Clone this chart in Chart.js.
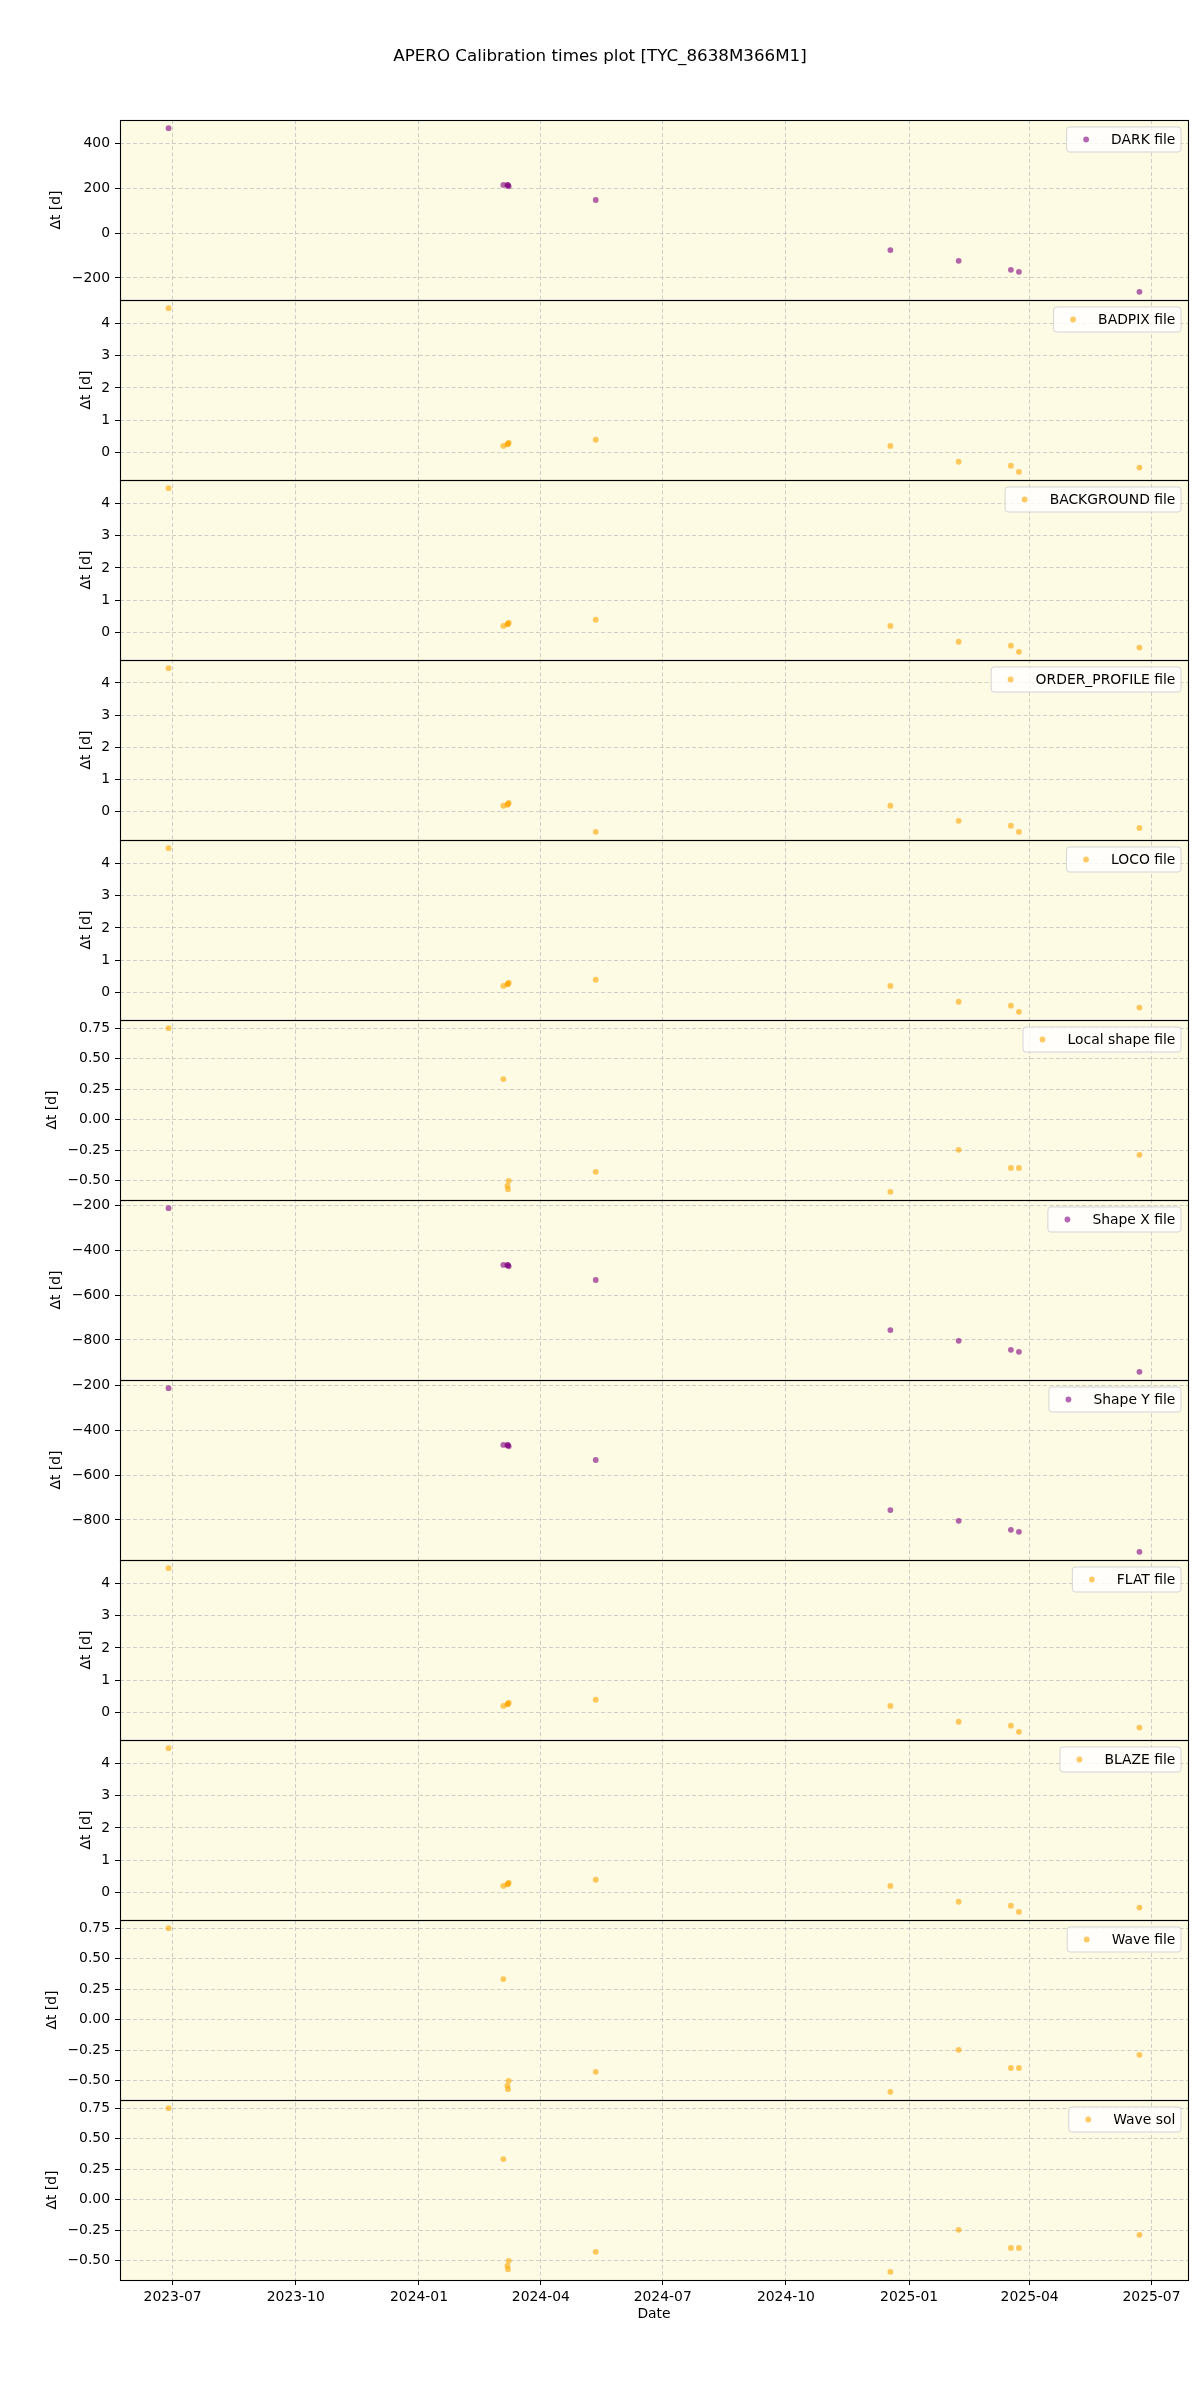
<!DOCTYPE html>
<html>
<head>
<meta charset="utf-8">
<script src="https://cdn.jsdelivr.net/npm/chart.js@4.4.1/dist/chart.umd.min.js"></script>
<style>
  html, body { margin: 0; padding: 0; background: #fff; }
  #wrap { position: relative; width: 1200px; height: 2400px; }
  #chart { position: absolute; left: 0; top: 0; }
  #title { position: absolute; left: 0; top: 45px; width: 1200px; text-align: center;
           font-family: "DejaVu Sans", sans-serif; font-size: 16.7px; line-height: 20px; color: #000; }
</style>
</head>
<body>
<div id="wrap">
  <canvas id="chart" width="1200" height="2400"></canvas>
  <div id="title">APERO Calibration times plot [TYC_8638M366M1]</div>
</div>
<script>
// calibration file dates (x) shared by every panel
const calibDates = ['2023-06-28', '2024-03-04', '2024-03-07', '2024-03-07T12:00Z', '2024-03-08',
                    '2024-05-12', '2024-12-18', '2025-02-07', '2025-03-18', '2025-03-24', '2025-06-22'];
const xTickDates = ['2023-07-01', '2023-10-01', '2024-01-01', '2024-04-01', '2024-07-01',
                    '2024-10-01', '2025-01-01', '2025-04-01', '2025-07-01'];

// delta t [d] per panel
const darkVals    = [467, 214, 214, 213, 208, 147, -76, -124, -164, -173, -262];
const badpixVals  = [4.46, 0.21, 0.26, 0.27, 0.31, 0.40, 0.21, -0.28, -0.40, -0.59, -0.46];
const backgrVals  = [4.46, 0.21, 0.26, 0.27, 0.31, 0.40, 0.21, -0.28, -0.40, -0.59, -0.46];
const orderpVals  = [4.46, 0.19, 0.22, 0.24, 0.28, -0.62, 0.19, -0.28, -0.43, -0.62, -0.50];
const locoVals    = [4.46, 0.21, 0.26, 0.27, 0.31, 0.40, 0.21, -0.28, -0.40, -0.59, -0.46];
const lshapeVals  = [0.75, 0.333, -0.543, -0.57, -0.502, -0.428, -0.592, -0.248, -0.396, -0.396, -0.289];
const shapeXVals  = [-213, -466, -466, -467, -472, -533, -756, -804, -844, -853, -942];
const shapeYVals  = [-213, -466, -466, -467, -472, -533, -756, -804, -844, -853, -942];
const flatVals    = [4.46, 0.21, 0.26, 0.27, 0.31, 0.40, 0.21, -0.28, -0.40, -0.59, -0.46];
const blazeVals   = [4.46, 0.21, 0.26, 0.27, 0.31, 0.40, 0.21, -0.28, -0.40, -0.59, -0.46];
const waveVals    = [0.75, 0.333, -0.543, -0.57, -0.502, -0.428, -0.592, -0.248, -0.396, -0.396, -0.289];
const waveSolVals = [0.75, 0.333, -0.543, -0.57, -0.502, -0.428, -0.592, -0.248, -0.396, -0.396, -0.289];

// y tick values
const darkTicks  = [-200, 0, 200, 400];
const smallTicks = [0, 1, 2, 3, 4];
const fracTicks  = [-0.5, -0.25, 0, 0.25, 0.5, 0.75];
const shapeTicks = [-800, -600, -400, -200];

const ORANGE = 'rgba(255,165,0,0.6)';
const PURPLE = 'rgba(128,0,128,0.6)';

const panels = [
  { label: 'DARK file',          vals: darkVals,    color: PURPLE, ticks: darkTicks,  dec: 0 },
  { label: 'BADPIX file',        vals: badpixVals,  color: ORANGE, ticks: smallTicks, dec: 0 },
  { label: 'BACKGROUND file',    vals: backgrVals,  color: ORANGE, ticks: smallTicks, dec: 0 },
  { label: 'ORDER_PROFILE file', vals: orderpVals,  color: ORANGE, ticks: smallTicks, dec: 0 },
  { label: 'LOCO file',          vals: locoVals,    color: ORANGE, ticks: smallTicks, dec: 0 },
  { label: 'Local shape file',   vals: lshapeVals,  color: ORANGE, ticks: fracTicks,  dec: 2 },
  { label: 'Shape X file',       vals: shapeXVals,  color: PURPLE, ticks: shapeTicks, dec: 0 },
  { label: 'Shape Y file',       vals: shapeYVals,  color: PURPLE, ticks: shapeTicks, dec: 0 },
  { label: 'FLAT file',          vals: flatVals,    color: ORANGE, ticks: smallTicks, dec: 0 },
  { label: 'BLAZE file',         vals: blazeVals,   color: ORANGE, ticks: smallTicks, dec: 0 },
  { label: 'Wave file',          vals: waveVals,    color: ORANGE, ticks: fracTicks,  dec: 2 },
  { label: 'Wave sol',           vals: waveSolVals, color: ORANGE, ticks: fracTicks,  dec: 2 }
];

const FONT = 'DejaVu Sans';
const FS = 13.9;
const GRID = 'rgba(185,185,185,0.7)';
const BG = 'rgb(253,251,227)';

Chart.defaults.font.family = FONT;
Chart.defaults.font.size = FS;
Chart.defaults.color = '#000';

function fmt(v, dec) {
  const s = Math.abs(v).toFixed(dec);
  return (v < 0 ? '\u2212' : '') + s;
}

const xs = calibDates.map(d => Date.parse(d));
const xMin = Math.min(...xs), xMax = Math.max(...xs);
const xPad = (xMax - xMin) * 0.05;

const scales = {
  x: {
    type: 'linear',
    position: 'bottom',
    min: xMin - xPad,
    max: xMax + xPad,
    afterBuildTicks: s => { s.ticks = xTickDates.map(d => ({ value: Date.parse(d) })); },
    afterFit: s => { s.height = 43; },
    ticks: {
      autoSkip: false, maxRotation: 0, padding: 4,
      callback: v => new Date(v).toISOString().slice(0, 7)
    },
    grid: { color: GRID, lineWidth: 1, tickLength: 5, tickColor: '#000', tickWidth: 1 },
    border: { display: false, dash: [4, 2.5] },
    title: { display: true, text: 'Date', padding: 0, font: { size: FS } }
  }
};

panels.forEach((p, i) => {
  const lo = Math.min(...p.vals), hi = Math.max(...p.vals);
  const pad = (hi - lo) * 0.05;
  scales['y' + i] = {
    type: 'linear',
    position: 'left',
    stack: 'panels',
    stackWeight: 1,
    weight: 20 - i,
    min: lo - pad,
    max: hi + pad,
    afterBuildTicks: s => { s.ticks = p.ticks.map(v => ({ value: v })); },
    afterFit: s => { s.width = 62; },
    ticks: { padding: 5, autoSkip: false, callback: v => fmt(v, p.dec) },
    grid: { color: GRID, lineWidth: 1, tickLength: 5, tickColor: '#000', tickWidth: 1 },
    border: { display: false, dash: [4, 2.5] }
  };
});

const datasets = panels.map((p, i) => ({
  label: p.label,
  yAxisID: 'y' + i,
  xAxisID: 'x',
  data: p.vals.map((v, j) => ({ x: xs[j], y: v })),
  backgroundColor: p.color,
  borderColor: p.color,
  borderWidth: 0,
  pointRadius: 2.9,
  pointHoverRadius: 2.9
}));

const backgroundPlugin = {
  id: 'bg',
  beforeDraw(chart) {
    const { ctx, chartArea: a } = chart;
    ctx.save();
    ctx.fillStyle = '#fff';
    ctx.fillRect(0, 0, chart.width, chart.height);
    ctx.fillStyle = BG;
    ctx.fillRect(a.left, a.top, a.right - a.left, a.bottom - a.top);
    ctx.restore();
  }
};

const framePlugin = {
  id: 'frames',
  afterDatasetsDraw(chart) {
    const { ctx, chartArea: a } = chart;
    ctx.save();
    ctx.strokeStyle = '#000';
    ctx.lineWidth = 1.1;
    panels.forEach((p, i) => {
      const s = chart.scales['y' + i];
      const t = Math.round(s.top) + 0.5, b = Math.round(s.bottom) + 0.5;
      ctx.strokeRect(Math.round(a.left) + 0.5, t, Math.round(a.right) - Math.round(a.left), b - t);
    });
    ctx.restore();
  }
};

const labelPlugin = {
  id: 'ylabels',
  afterDraw(chart) {
    const { ctx, chartArea: a } = chart;
    ctx.save();
    ctx.font = FS + 'px "' + FONT + '"';
    panels.forEach((p, i) => {
      const s = chart.scales['y' + i];
      const maxW = Math.max(...p.ticks.map(v => ctx.measureText(fmt(v, p.dec)).width));
      const cx = a.left - 10 - maxW - 15;
      const cy = (s.top + s.bottom) / 2;
      ctx.save();
      ctx.translate(cx, cy);
      ctx.rotate(-Math.PI / 2);
      ctx.fillStyle = '#000';
      ctx.textAlign = 'center';
      ctx.textBaseline = 'middle';
      ctx.fillText('\u0394t [d]', 0, 0);
      ctx.restore();
    });
    ctx.restore();
  }
};

const legendPlugin = {
  id: 'panelLegends',
  afterDraw(chart) {
    const { ctx, chartArea: a } = chart;
    ctx.save();
    ctx.font = FS + 'px "' + FONT + '"';
    panels.forEach((p, i) => {
      const s = chart.scales['y' + i];
      const tw = ctx.measureText(p.label).width;
      const w = 5.6 + 27.8 + 11.1 + tw + 5.6;
      const h = 25;
      const x = a.right - 7 - w;
      const y = s.top + 7;
      ctx.beginPath();
      ctx.roundRect(x, y, w, h, 3);
      ctx.fillStyle = 'rgba(255,255,255,0.8)';
      ctx.fill();
      ctx.strokeStyle = 'rgba(204,204,204,0.8)';
      ctx.lineWidth = 1;
      ctx.stroke();
      ctx.beginPath();
      ctx.arc(x + 5.6 + 13.9, y + h / 2, 2.9, 0, Math.PI * 2);
      ctx.fillStyle = p.color;
      ctx.fill();
      ctx.fillStyle = '#000';
      ctx.textAlign = 'left';
      ctx.textBaseline = 'middle';
      ctx.fillText(p.label, x + 5.6 + 27.8 + 11.1, y + h / 2 + 0.5);
    });
    ctx.restore();
  }
};

new Chart(document.getElementById('chart').getContext('2d'), {
  type: 'scatter',
  data: { datasets },
  options: {
    responsive: false,
    animation: false,
    devicePixelRatio: 1,
    layout: { padding: { left: 58, right: 12, top: 120, bottom: 77 } },
    plugins: { legend: { display: false }, tooltip: { enabled: false }, title: { display: false } },
    scales
  },
  plugins: [backgroundPlugin, framePlugin, labelPlugin, legendPlugin]
});
</script>
</body>
</html>
